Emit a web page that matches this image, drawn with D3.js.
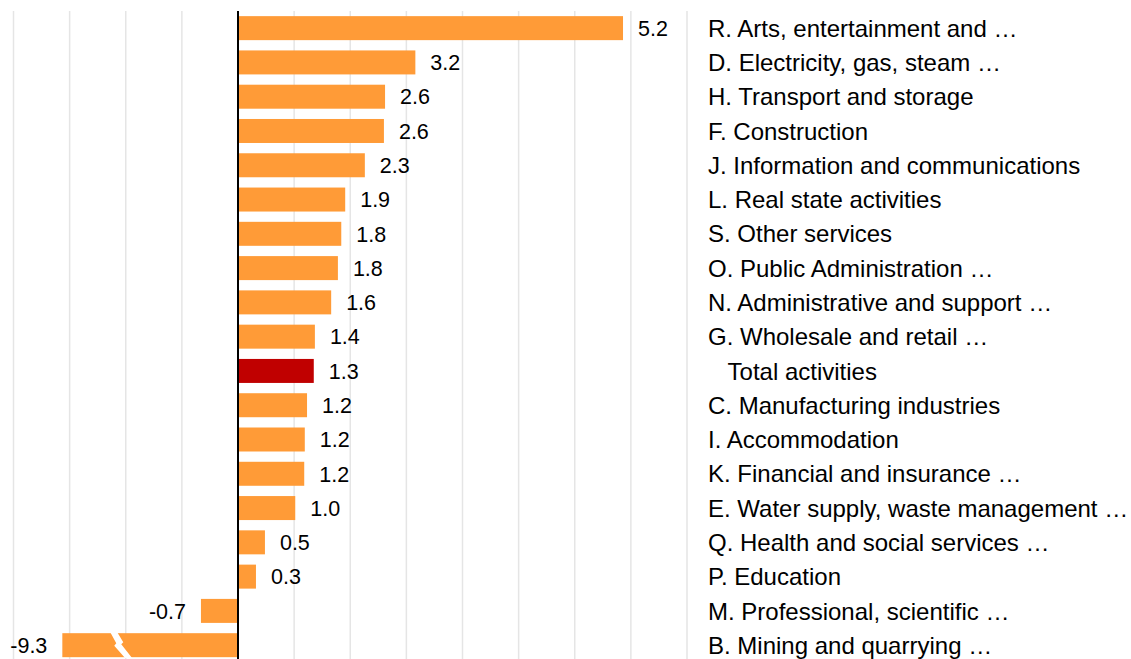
<!DOCTYPE html>
<html>
<head>
<meta charset="utf-8">
<script src="https://cdn.jsdelivr.net/npm/d3@7"></script>
<style>
  html, body { margin: 0; padding: 0; background: #fff; }
  svg { display: block; font-family: "Liberation Sans", Arial, sans-serif; }
</style>
</head>
<body>
<svg id="chart" width="1131" height="659"></svg>
<script>
// ---- data ----
const categories = [
  "R. Arts, entertainment and \u2026",
  "D. Electricity, gas, steam \u2026",
  "H. Transport and storage",
  "F. Construction",
  "J. Information and communications",
  "L. Real state activities",
  "S. Other services",
  "O. Public Administration \u2026",
  "N. Administrative and support \u2026",
  "G. Wholesale and retail \u2026",
  "   Total activities",
  "C. Manufacturing industries",
  "I. Accommodation",
  "K. Financial and insurance \u2026",
  "E. Water supply, waste management \u2026",
  "Q. Health and social services \u2026",
  "P. Education",
  "M. Professional, scientific \u2026",
  "B. Mining and quarrying \u2026"
];
// printed values
const values = [5.2, 3.2, 2.6, 2.6, 2.3, 1.9, 1.8, 1.8, 1.6, 1.4, 1.3, 1.2, 1.2, 1.2, 1.0, 0.5, 0.3, -0.7, -9.3];
// lengths as drawn in the picture (B is a broken, truncated bar)
const drawnLengths = [6.86, 3.16, 2.62, 2.6, 2.26, 1.91, 1.84, 1.78, 1.66, 1.37, 1.35, 1.23, 1.19, 1.18, 1.02, 0.48, 0.32, -0.66, -3.13];
const brokenIndex = 18;
const breakValue = -2.08;
const totalIndex = 10;
const tickValues = [-4, -3, -2, -1, 0, 1, 2, 3, 4, 5, 6, 7, 8];

// ---- layout ----
const svg = d3.select("#chart");
const plotTop = 11, plotBottom = 659;
const x = d3.scaleLinear().domain([-4, 8]).range([13.5, 687]);
const y = d3.scaleBand().domain(d3.range(categories.length))
  .range([plotTop, plotTop + 19 * 34.28]).paddingInner(0.3).paddingOuter(0.15);

// gridlines
svg.append("g").selectAll("line").data(tickValues.filter(d => d !== 0)).join("line")
  .attr("x1", d => x(d)).attr("x2", d => x(d))
  .attr("y1", plotTop).attr("y2", plotBottom)
  .attr("stroke", "#e5e5e5").attr("stroke-width", 1.5);

// bars
const rows = categories.map((c, i) => ({ c, i, v: values[i], len: drawnLengths[i] }));
svg.append("g").selectAll("rect").data(rows).join("rect")
  .attr("x", d => x(Math.min(0, d.len)))
  .attr("width", d => Math.abs(x(d.len) - x(0)))
  .attr("y", d => y(d.i))
  .attr("height", y.bandwidth())
  .attr("fill", d => d.i === totalIndex ? "#C00000" : "#FF9B37");

// break mark on the truncated bar
{
  const cx = x(breakValue), t = y(brokenIndex), h = y.bandwidth();
  const pts = [[-11, -1], [-4, -1], [2, 0.38 * h], [0, 0.46 * h], [11, h + 1], [4, h + 1], [-7, 0.52 * h], [-5, 0.42 * h]];
  svg.append("polygon")
    .attr("points", pts.map(p => [cx + p[0], t + p[1]].join(",")).join(" "))
    .attr("fill", "#fff");
}

// zero line
svg.append("line")
  .attr("x1", x(0)).attr("x2", x(0)).attr("y1", plotTop).attr("y2", plotBottom)
  .attr("stroke", "#000").attr("stroke-width", 2);

// value labels
svg.append("g").selectAll("text").data(rows).join("text")
  .attr("x", d => d.len >= 0 ? x(d.len) + 15 : x(d.len) - 15)
  .attr("y", d => y(d.i) + y.bandwidth() / 2)
  .attr("dy", "0.36em")
  .attr("text-anchor", d => d.len >= 0 ? "start" : "end")
  .attr("font-size", 21.5)
  .attr("fill", "#000")
  .text(d => d.v.toFixed(1));

// category labels
svg.append("g").selectAll("text").data(rows).join("text")
  .attr("x", 708)
  .attr("y", d => y(d.i) + y.bandwidth() / 2)
  .attr("dy", "0.36em")
  .attr("font-size", 24)
  .attr("fill", "#000")
  .style("white-space", "pre")
  .text(d => d.c);
</script>
</body>
</html>
